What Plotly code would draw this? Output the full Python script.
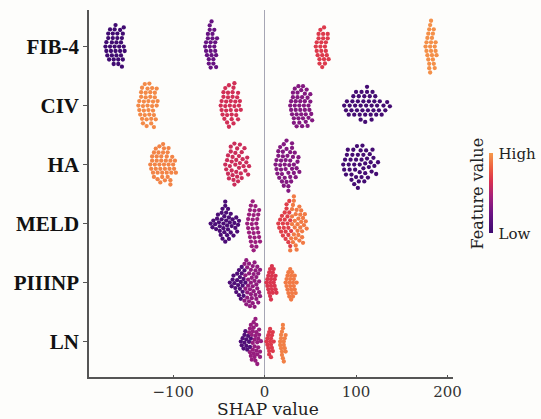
import math
import plotly.graph_objects as go

# ---------------- data ----------------
FEATURES = ["LN", "PIIINP", "MELD", "HA", "CIV", "FIB-4"]  # bottom -> top

FIB4_SHAP = [
    [-174,-173,-173,-172,-171,-171,-170,-169,-169,-168,-167,-167,-166,-165,-165,-164,-164,-163,-163,-162,
     -161,-161,-160,-160,-159,-158,-158,-157,-157,-156,-156,-155,-155,-154,-154,-153,-166,-162],
    [-65,-64,-64,-63,-62,-62,-61,-61,-60,-60,-59,-59,-59,-58,-58,-57,-57,-56,-56,-55,-55,-54,-54,-53,-53,-52,-60],
    [56,57,57,58,59,59,60,60,61,61,62,62,63,63,64,64,65,65,66,66,67,67,68,69,69,70],
    [176,177,177,178,178,179,179,180,180,181,181,181,182,182,183,183,184,184,185,185,186,186,187,187,188,182,180],
]
FIB4_FEAT = [0.02, 0.22, 0.68, 0.97]

CIV_SHAP = [
    [-138,-137,-137,-136,-135,-135,-134,-134,-133,-132,-132,-131,-131,-130,-130,-129,-128,-128,-127,-127,
     -126,-126,-125,-124,-124,-123,-123,-122,-121,-121,-120,-120,-119,-118,-118,-117,-129,-125,-133,-122],
    [-48,-47,-47,-46,-45,-45,-44,-43,-43,-42,-42,-41,-40,-40,-39,-39,-38,-37,-37,-36,-36,-35,-34,-34,-33,
     -33,-32,-31,-31,-30,-29,-29,-28,-27,-26,-41,-35],
    [28,29,29,30,31,31,32,32,33,34,34,35,35,36,37,37,38,38,39,39,40,41,41,42,42,43,44,44,45,45,46,47,47,48,
     48,49,50,50,51,52,36,40,44,33],
    [87,89,90,92,93,95,96,97,98,99,100,101,102,103,104,105,106,107,108,109,110,110,111,112,113,114,115,116,
     117,118,119,120,121,122,123,125,126,128,130,132,134,137,105,112,117],
]
CIV_FEAT = [0.95, 0.62, 0.33, 0.04]

HA_SHAP = [
    [-125,-124,-123,-123,-122,-121,-121,-120,-119,-119,-118,-117,-117,-116,-115,-115,-114,-113,-113,-112,
     -111,-111,-110,-109,-109,-108,-107,-107,-106,-105,-105,-104,-103,-103,-102,-101,-100,-99,-98,-97,
     -118,-112,-106,-110,-114,-103],
    [-43,-42,-41,-40,-40,-39,-38,-37,-37,-36,-35,-35,-34,-33,-32,-32,-31,-30,-30,-29,-28,-28,-27,-26,-25,
     -25,-24,-23,-22,-21,-20,-19,-18,-17,-36,-31,-27,-33],
    [12,13,13,14,15,15,16,17,17,18,19,19,20,21,21,22,23,23,24,24,25,26,26,27,28,28,29,30,30,31,32,32,33,34,
     35,36,37,38,20,24,28,22,26,30,18],
    [86,87,88,89,90,91,92,93,94,95,96,97,98,99,100,100,101,102,103,104,104,105,106,107,108,108,109,110,111,
     112,113,114,115,116,117,118,119,120,122,124,102,106,110,98,95],
]
HA_FEAT = [0.93, 0.60, 0.33, 0.04]

MELD_SHAP = [
    [-59,-57,-56,-54,-53,-52,-51,-50,-49,-49,-48,-47,-47,-46,-46,-45,-45,-44,-44,-43,-43,-43,-42,-42,-41,
     -41,-40,-40,-39,-39,-38,-37,-37,-36,-35,-34,-33,-32,-31,-30,-29,-28],
    [-19,-18,-18,-17,-17,-16,-16,-15,-15,-14,-14,-13,-13,-12,-12,-12,-11,-11,-10,-10,-9,-9,-8,-8,-7,-7,-6,
     -6,-5,-13],
    [15,16,17,18,19,20,20,21,22,22,23,23,24,24,25,25,26,26,27,27,26,28,28,29],
    [28,29,30,30,31,31,30,32,32,33,33,32,34,34,35,35,34,36,36,37,37,38,38,39,39,40,40,41,41,42,42,43,44,45,46],
]
MELD_FEAT = [0.08, 0.42, 0.70, 0.90]

PIIINP_SHAP = [
    [-38,-36,-35,-34,-33,-32,-31,-30,-30,-29,-28,-28,-27,-27,-26,-26,-25,-25,-24,-24,-23,-23,-22,-21],
    [-22,-22,-21,-21,-20,-20,-19,-19,-19,-18,-18,-17,-17,-17,-16,-16,-15,-15,-15,-14,-14,-13,-13,-13,-12,
     -12,-11,-11,-11,-10,-10,-9,-9,-9,-8,-8,-7,-7,-6,-6,-5,-5],
    [2,3,3,4,4,5,5,6,6,6,7,7,8,8,8,9,9,10,10,11,11,12,12,13,7],
    [23,24,24,25,25,26,26,27,27,28,28,29,29,29,30,30,31,31,32,32,33,33,34,35,28],
]
PIIINP_FEAT = [0.10, 0.38, 0.66, 0.90]

LN_SHAP = [
    [-26,-25,-24,-23,-22,-22,-21,-20,-20,-19,-18,-17,-16,-15],
    [-17,-16,-16,-15,-15,-14,-14,-13,-13,-13,-12,-12,-11,-11,-11,-10,-10,-9,-9,-9,-8,-8,-7,-7,-6,-6,-5,-5,
     -4,-12,-10,-8],
    [2,3,3,4,4,5,5,5,6,6,7,7,7,8,8,9,9,10],
    [17,17,18,18,18,19,19,19,20,20,20,21,21,21,22,22,23,23],
]
LN_FEAT = [0.10, 0.40, 0.68, 0.92]

X_TICKS = [-100, 0, 100, 200]

DATA = {
    "FIB-4": (FIB4_SHAP, FIB4_FEAT),
    "CIV": (CIV_SHAP, CIV_FEAT),
    "HA": (HA_SHAP, HA_FEAT),
    "MELD": (MELD_SHAP, MELD_FEAT),
    "PIIINP": (PIIINP_SHAP, PIIINP_FEAT),
    "LN": (LN_SHAP, LN_FEAT),
}

# ---------------- layout / style ----------------
W, H = 541, 419
M = dict(l=89, r=88, t=10, b=42, autoexpand=False)
X_RANGE = [-192, 206]
Y_RANGE = [-0.6, 5.62]
PLOT_W = W - M["l"] - M["r"]
PLOT_H = H - M["t"] - M["b"]
PX_X = PLOT_W / (X_RANGE[1] - X_RANGE[0])
PX_Y = PLOT_H / (Y_RANGE[1] - Y_RANGE[0])

# which clusters are swarmed together, and point spacing (px)
SWARM_UNITS = {
    "FIB-4": [([0], 4.5), ([1], 4.4), ([2], 4.4), ([3], 4.4)],
    "CIV": [([0], 4.6), ([1], 4.6), ([2], 4.45), ([3], 5.1)],
    "HA": [([0], 4.3), ([1], 4.8), ([2], 4.6), ([3], 5.2)],
    "MELD": [([0], 4.1), ([1], 4.6), ([2, 3], 4.3)],
    "PIIINP": [([0, 1], 4.1), ([2], 3.5), ([3], 3.6)],
    "LN": [([0, 1], 3.8), ([2], 3.3), ([3], 3.4)],
}

COLORSCALE = [[0.0, "#3c0a70"], [0.25, "#6d1485"], [0.45, "#a3207c"],
              [0.65, "#d9324f"], [0.8, "#ec5a40"], [1.0, "#f59a4a"]]


def swarm(xs_px, d):
    order = sorted(range(len(xs_px)), key=lambda i: xs_px[i])
    placed = []
    ys = [0.0] * len(xs_px)
    for i in order:
        x = xs_px[i]
        near = [(px, py) for px, py in placed if abs(px - x) < d]
        cands = [0.0]
        for px, py in near:
            h = math.sqrt(d * d - (px - x) ** 2)
            cands += [py + h, py - h]
        cands.sort(key=lambda c: (abs(c), c))
        for c in cands:
            if all((px - x) ** 2 + (py - c) ** 2 >= d * d - 1e-6 for px, py in near):
                ys[i] = c
                break
        placed.append((x, ys[i]))
    return ys


all_x, all_y, all_c = [], [], []
for row, feat in enumerate(FEATURES):
    shap_lists, feat_vals = DATA[feat]
    for members, d in SWARM_UNITS[feat]:
        xs, cs = [], []
        for m in members:
            xs += shap_lists[m]
            cs += [feat_vals[m]] * len(shap_lists[m])
        ys_px = swarm([v * PX_X for v in xs], d)
        all_x += xs
        all_y += [row + yp / PX_Y for yp in ys_px]
        all_c += cs

fig = go.Figure()
fig.add_trace(go.Scatter(
    x=all_x, y=all_y, mode="markers", hoverinfo="skip", showlegend=False, cliponaxis=False,
    marker=dict(size=4.3, color=all_c, cmin=0, cmax=1, colorscale=COLORSCALE,
                line=dict(width=0), showscale=True,
                colorbar=dict(
                    x=(489 - M["l"]) / PLOT_W, xanchor="left", xpad=0, ypad=0,
                    y=0.5, yanchor="middle", len=80, lenmode="pixels",
                    thickness=4, thicknessmode="pixels", outlinewidth=0,
                    tickvals=[0, 1], ticktext=["Low", "High"],
                    ticks="outside", ticklen=3, tickcolor="rgba(0,0,0,0)",
                    tickfont=dict(family="DejaVu Serif", size=15, color="#222"),
                )),
))

fig.add_annotation(
    text="Feature value", textangle=-90, xref="paper", yref="paper",
    x=(477 - M["l"]) / PLOT_W, y=0.5, xanchor="center", yanchor="middle",
    showarrow=False, font=dict(family="DejaVu Serif", size=16, color="#222"),
)

fig.add_annotation(
    text="SHAP value", xref="paper", yref="paper",
    x=(268 - M["l"]) / PLOT_W, y=-(409 - (H - M["b"])) / PLOT_H,
    xanchor="center", yanchor="middle", showarrow=False,
    font=dict(family="DejaVu Serif", size=17, color="#222"),
)

fig.update_layout(
    width=W, height=H, margin=M, template="none",
    paper_bgcolor="#fdfdfb", plot_bgcolor="#fdfdfb",
    xaxis=dict(range=X_RANGE, tickvals=X_TICKS, ticks="inside", ticklen=2,
               tickcolor="#555", showline=True, linecolor="#555", linewidth=1.5,
               showgrid=False, zeroline=True, zerolinecolor="#a6a6b4", zerolinewidth=1,
               tickfont=dict(family="DejaVu Serif", size=15, color="#333"),
               automargin=False),
    yaxis=dict(range=Y_RANGE, tickvals=list(range(len(FEATURES))), ticktext=FEATURES,
               ticks="outside", ticklen=4, tickcolor="#555", showline=True,
               linecolor="#555", linewidth=1.5, showgrid=False, zeroline=False,
               tickfont=dict(family="Liberation Serif", size=21, color="#111", weight="bold"),
               automargin=False),
)

fig.write_html("out.html", config={"displayModeBar": False},
               post_script="document.body.style.margin='0';")
